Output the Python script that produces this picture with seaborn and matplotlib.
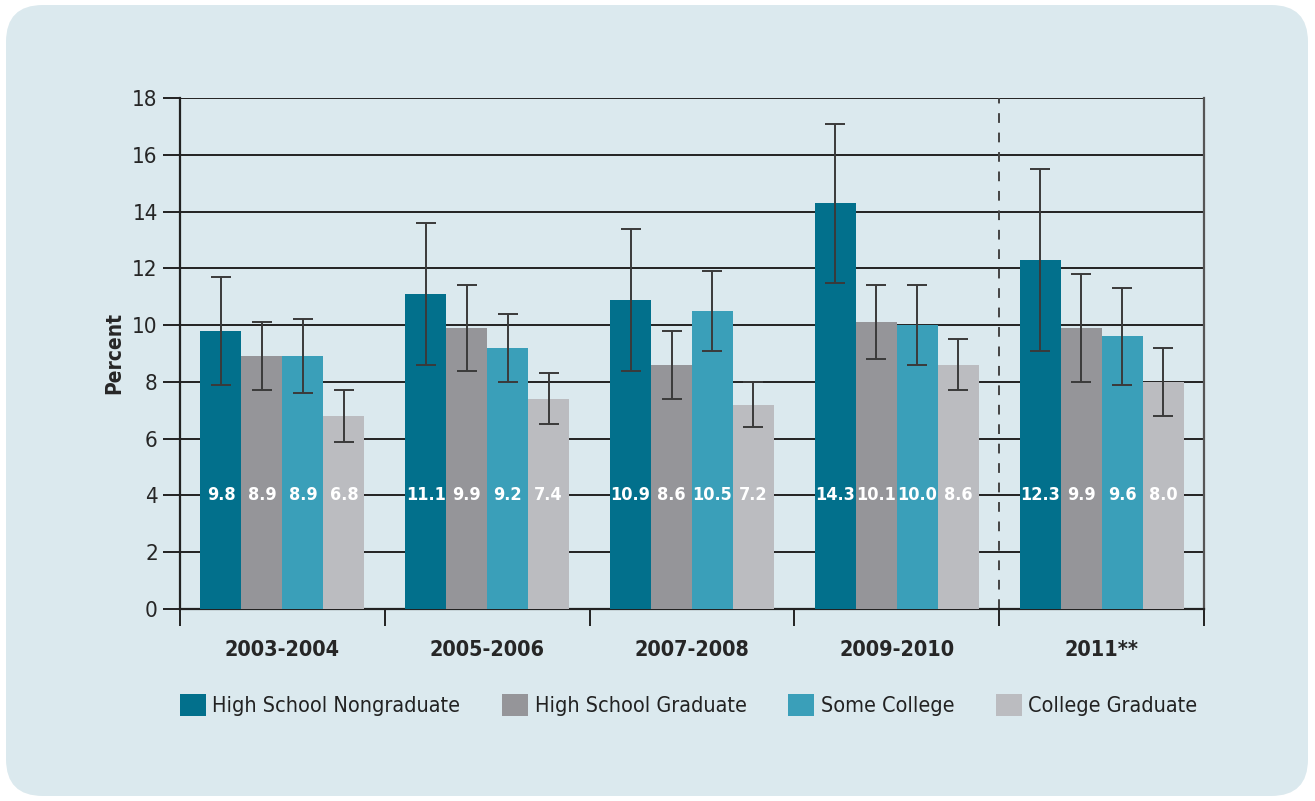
import pandas
import seaborn as sns
import matplotlib.pyplot as plt
import matplotlib.patches as patches

periods = ['2003-2004', '2005-2006', '2007-2008', '2009-2010', '2011**']
groups = ['High School Nongraduate', 'High School Graduate', 'Some College', 'College Graduate']

nongrad = [9.8, 11.1, 10.9, 14.3, 12.3]
hs_grad = [8.9, 9.9, 8.6, 10.1, 9.9]
some_college = [8.9, 9.2, 10.5, 10.0, 9.6]
college_grad = [6.8, 7.4, 7.2, 8.6, 8.0]

nongrad_lo = [7.9, 8.6, 8.4, 11.5, 9.1]
nongrad_hi = [11.7, 13.6, 13.4, 17.1, 15.5]
hs_grad_lo = [7.7, 8.4, 7.4, 8.8, 8.0]
hs_grad_hi = [10.1, 11.4, 9.8, 11.4, 11.8]
some_college_lo = [7.6, 8.0, 9.1, 8.6, 7.9]
some_college_hi = [10.2, 10.4, 11.9, 11.4, 11.3]
college_grad_lo = [5.9, 6.5, 6.4, 7.7, 6.8]
college_grad_hi = [7.7, 8.3, 8.0, 9.5, 9.2]

colors = ['#02708c', '#959599', '#3a9fb9', '#bbbcc0']

sns.set_theme(style = 'white')
plt.rcParams['font.family'] = ['DejaVu Sans']
plt.rcParams['font.stretch'] = 'condensed'
plt.rcParams['text.color'] = '#222222'

values = [nongrad, hs_grad, some_college, college_grad]
lows = [nongrad_lo, hs_grad_lo, some_college_lo, college_grad_lo]
highs = [nongrad_hi, hs_grad_hi, some_college_hi, college_grad_hi]

records = []
for g, vals in zip(groups, values):
    for p, v in zip(periods, vals):
        records.append({'period': p, 'group': g, 'value': v})
df = pandas.DataFrame(records)

fig = plt.figure(figsize = (13.15, 8.01), dpi = 100)
fig.patch.set_facecolor('white')

# Rounded light blue panel behind everything.
panel = patches.FancyBboxPatch(
    (6 / 1315, 5 / 801), 1302 / 1315, 791 / 801,
    boxstyle = 'round,pad=0,rounding_size=0.028',
    transform = fig.transFigure, facecolor = '#dbe9ee', edgecolor = 'none',
    mutation_aspect = 1315 / 801, zorder = -10
)
fig.patches.append(panel)

ax = fig.add_axes([180 / 1315, 1 - 609 / 801, 1024 / 1315, 511 / 801])
ax.set_facecolor('none')

sns.barplot(
    data = df, x = 'period', y = 'value', hue = 'group',
    palette = colors, width = 0.8, gap = 0, ax = ax, legend = True,
    saturation = 1, linewidth = 0, zorder = 3
)

# Error bars and value labels.
for container, lo, hi in zip(ax.containers, lows, highs):
    for bar, l, h in zip(container, lo, hi):
        xc = bar.get_x() + bar.get_width() / 2
        v = bar.get_height()
        ax.errorbar(
            xc, v, yerr = [[v - l], [h - v]], fmt = 'none',
            ecolor = '#3a3a3a', elinewidth = 1.4, capsize = 7, capthick = 1.4, zorder = 5
        )
        ax.text(
            xc, 4, f'{v:.1f}', ha = 'center', va = 'center',
            color = 'white', fontsize = 13, fontweight = 'bold', zorder = 6
        )

ax.set_ylim(0, 18)
ax.set_xlim(-0.5, 4.5)
ax.set_yticks(range(0, 19, 2))
for y in range(2, 19, 2):
    ax.axhline(y, color = '#222222', linewidth = 1.4, zorder = 1)

ax.tick_params(axis = 'y', direction = 'out', length = 12, width = 1.4, color = '#222222',
               labelsize = 16, pad = 4, left = True)

# Category separators as major ticks, labels as minor ticks.
ax.set_xticks([i - 0.5 for i in range(6)])
ax.set_xticklabels([])
ax.set_xticks(range(5), minor = True)
ax.set_xticklabels(periods, minor = True, fontsize = 15.5, fontweight = 'bold')
ax.tick_params(axis = 'x', which = 'major', direction = 'out', length = 12, width = 1.4,
               color = '#222222', bottom = True)
ax.tick_params(axis = 'x', which = 'minor', length = 0, pad = 22)

ax.axvline(3.5, color = '#444444', linewidth = 1.4, linestyle = (0, (5, 5)), zorder = 2)

for side in ['left', 'bottom']:
    ax.spines[side].set_color('#222222')
    ax.spines[side].set_linewidth(1.6)
ax.spines['right'].set_color('#555555')
ax.spines['right'].set_linewidth(1.6)
ax.spines['top'].set_visible(False)

ax.set_xlabel(None)
ax.set_ylabel('Percent', fontsize = 15, fontweight = 'bold', labelpad = 6)

# Legend along the bottom.
handles, labels = ax.get_legend_handles_labels()
ax.get_legend().remove()
fig.legend(
    handles, labels, loc = 'center left', bbox_to_anchor = (180 / 1315, 1 - 705 / 801),
    ncol = 4, frameon = False, fontsize = 15.5, handlelength = 1.2, handleheight = 1.2,
    handletextpad = 0.3, columnspacing = 1.95, borderaxespad = 0, borderpad = 0
)

plt.savefig('out.png', dpi = 100, facecolor = 'white')
